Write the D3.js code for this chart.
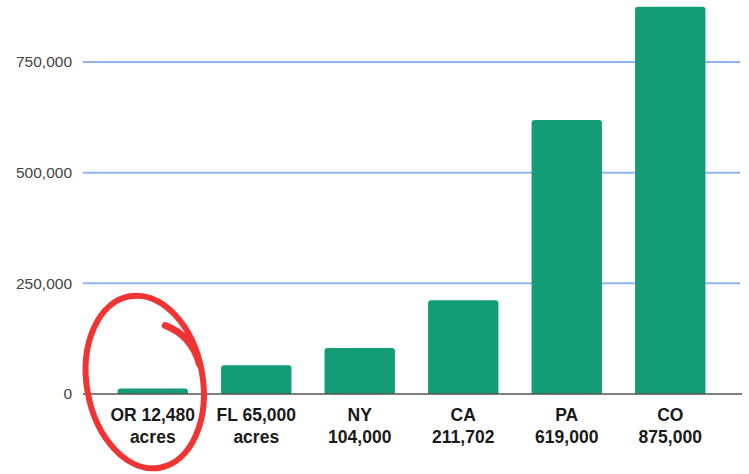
<!DOCTYPE html>
<html>
<head>
<meta charset="utf-8">
<script src="https://cdn.jsdelivr.net/npm/d3@7"></script>
<style>
	body { margin: 0; background: #fff; }
	svg { display: block; }
	.tick text { font-family: "Liberation Sans", Arial, sans-serif; }
</style>
</head>
<body>
<div id="chart"></div>
<script>
// Data
const states = ["OR", "FL", "NY", "CA", "PA", "CO"];
const acres = [12480, 65000, 104000, 211702, 619000, 875000];
const labelTop = ["OR 12,480", "FL 65,000", "NY", "CA", "PA", "CO"];
const labelBottom = ["acres", "acres", "104,000", "211,702", "619,000", "875,000"];
const yTicks = [0, 250000, 500000, 750000];

const width = 749, height = 474;

const svg = d3.select("#chart").append("svg")
	.attr("width", width).attr("height", height);

// Scales
const x = d3.scaleBand(states, [101, 722]).paddingInner(0.32).paddingOuter(0.16);
const y = d3.scaleLinear([0, 750000], [394, 62]);

// Gridlines
svg.append("g").selectAll("line")
	.data(yTicks.filter(d => d > 0))
	.join("line")
	.attr("x1", 83).attr("x2", 740)
	.attr("y1", d => y(d)).attr("y2", d => y(d))
	.attr("stroke", "#8fb4f5").attr("stroke-width", 2);

// Y axis labels
const axisY = svg.append("g")
	.attr("transform", "translate(79,0)")
	.call(d3.axisLeft(y).tickValues(yTicks).tickSize(0).tickPadding(7).tickFormat(d3.format(",")));
axisY.select(".domain").remove();
axisY.selectAll("text").attr("font-size", 15.5).attr("fill", "#444");

// Bars with rounded tops
const r = 3;
svg.append("g").selectAll("path")
	.data(states)
	.join("path")
	.attr("fill", "#139c75")
	.attr("d", (d, i) => {
		const x0 = x(d), w = x.bandwidth(), y0 = y(acres[i]), yb = y(0);
		return `M${x0},${yb}V${y0 + r}Q${x0},${y0} ${x0 + r},${y0}H${x0 + w - r}Q${x0 + w},${y0} ${x0 + w},${y0 + r}V${yb}Z`;
	});

// Baseline
svg.append("line")
	.attr("x1", 83).attr("x2", 742)
	.attr("y1", y(0)).attr("y2", y(0))
	.attr("stroke", "#555").attr("stroke-width", 1.3);

// Category labels
const labels = svg.append("g")
	.attr("font-family", "'Liberation Sans', Arial, sans-serif")
	.attr("font-weight", "bold").attr("font-size", 17.5)
	.attr("fill", "#1a1a1a").attr("text-anchor", "middle");
labels.selectAll("text.l1").data(states).join("text").classed("l1", true)
	.attr("x", d => x(d) + x.bandwidth() / 2).attr("y", 421)
	.text((d, i) => labelTop[i]);
labels.selectAll("text.l2").data(states).join("text").classed("l2", true)
	.attr("x", d => x(d) + x.bandwidth() / 2).attr("y", 443)
	.text((d, i) => labelBottom[i]);

// Hand-drawn red circle around OR
const cx = x("OR") + x.bandwidth() / 2 - 8;
const ring = svg.append("g")
	.attr("transform", `translate(${cx},382) rotate(-10)`)
	.attr("fill", "none").attr("stroke", "#f03434")
	.attr("stroke-linecap", "round");
ring.append("ellipse")
	.attr("rx", 58).attr("ry", 87).attr("stroke-width", 6);
ring.append("path")
	.attr("d", "M30,-52 Q54,-38 57,-8")
	.attr("stroke-width", 7);
</script>
</body>
</html>
